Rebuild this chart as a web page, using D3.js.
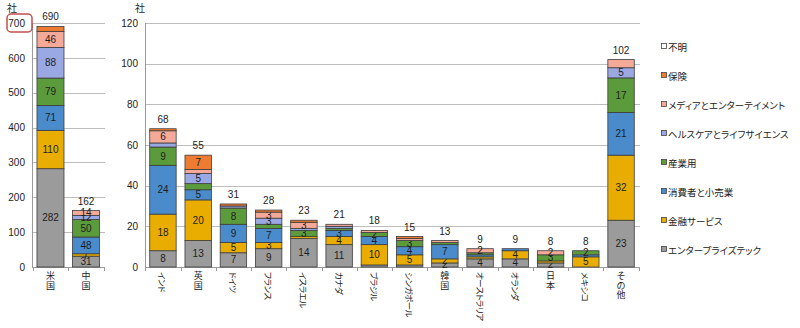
<!DOCTYPE html>
<html><head><meta charset="utf-8">
<script src="https://cdn.jsdelivr.net/npm/d3@7"></script>
<style>
html,body{margin:0;padding:0;background:#fff;}
svg{display:block;}
text{font-family:"Liberation Sans","Noto Sans CJK JP",sans-serif;}
.jp{font-family:"Noto Sans CJK JP",sans-serif;}
.palt{font-feature-settings:"palt" 1;}
</style></head>
<body>
<svg id="c" width="800" height="328"></svg>
<script>
// ---- data ----
const leftCats = ["米国","中国"];
const rightCats = ["インド","英国","ドイツ","フランス","イスラエル","カナダ","ブラジル","シンガポール","韓国","オーストラリア","オランダ","日本","メキシコ","その他"];
const seriesNames = ["エンタープライズテック","金融サービス","消費者と小売業","産業用","ヘルスケアとライフサイエンス","メディアとエンターテイメント","保険","不明"];
const seriesColors = ["#9b9b9b","#e8ad00","#4a8bcb","#5b9b3b","#9aa9e3","#f4a999","#ee7b32","#ffffff"];
// values: 米国, 中国, then rightCats order
const entTech    = [282,31, 8,13,7,9,14,11,1,1,2,4,4,2,0,23];
const finance    = [110, 7, 18,20,5,3,1,4,10,5,2,1,4,1,5,32];
const consumer   = [71,48, 24,5,9,7,0,3,4,4,7,1,1,0,1,21];
const industrial = [79,50, 9,3,8,2,3,1,2,3,1,1,0,3,2,17];
const health     = [88,12, 2,5,1,3,1,1,0,0,0,0,0,0,0,5];
const media      = [46,14, 6,2,0,3,3,1,1,1,1,2,0,2,0,4];
const insurance  = [14, 0, 1,7,1,1,1,0,0,1,0,0,0,0,0,0];
const unknown    = [0, 0, 0,0,0,0,0,0,0,0,0,0,0,0,0,0];
const totals     = [690,162, 68,55,31,28,23,21,18,15,13,9,9,8,8,102];
const leftTicks = [0,100,200,300,400,500,600,700];
const rightTicks = [0,20,40,60,80,100,120];
// segment labels that are not shown in the reference
const hiddenLabels = [["米国",6],["インド",4],["英国",3],["英国",5],["フランス",3],["その他",5]];

const allCats = leftCats.concat(rightCats);
const seriesVals = [entTech,finance,consumer,industrial,health,media,insurance,unknown];
const rows = allCats.map((c,i)=>{const r={cat:c,total:totals[i]}; seriesNames.forEach((s,k)=>r[s]=seriesVals[k][i]); return r;});
const stack = d3.stack().keys(seriesNames)(rows);

const svg = d3.select("#c");
const y0 = 267, yTop = 23;

function panel(cats, xr, yMax, ticks, gridEnd, axisX, unitX, pi, po){
  const x = d3.scaleBand().domain(cats).range(xr).paddingInner(pi).paddingOuter(po);
  const y = d3.scaleLinear().domain([0,yMax]).range([y0,yTop]);
  const g = svg.append("g");
  // grid
  g.selectAll(".grid").data(ticks.filter(t=>t>0)).join("line")
    .attr("x1",axisX).attr("x2",gridEnd).attr("y1",d=>Math.round(y(d))+0.5).attr("y2",d=>Math.round(y(d))+0.5)
    .attr("stroke","#bdbdbd").attr("stroke-width",1);
  // y axis
  const ya = g.append("g").attr("transform",`translate(${axisX},0)`)
    .call(d3.axisLeft(y).tickValues(ticks).tickSize(0).tickPadding(7));
  ya.select(".domain").remove();
  ya.selectAll("text").attr("font-size",10).attr("fill","#222").attr("font-family","Liberation Sans, sans-serif");
  g.append("line").attr("x1",axisX+0.5).attr("x2",axisX+0.5).attr("y1",yTop).attr("y2",y0).attr("stroke","#9a9a9a");
  g.append("line").attr("x1",axisX).attr("x2",gridEnd).attr("y1",y0+0.5).attr("y2",y0+0.5).attr("stroke","#9a9a9a");
  // category boundary ticks
  const step = x.step(), bw = x.bandwidth();
  const bounds = cats.map(c=>x(c)-(step-bw)/2).concat([x(cats[cats.length-1])+bw+(step-bw)/2]);
  g.selectAll(".xt").data(bounds).join("line")
    .attr("x1",d=>Math.round(d)+0.5).attr("x2",d=>Math.round(d)+0.5).attr("y1",y0).attr("y2",y0+4).attr("stroke","#9a9a9a");
  // unit
  g.append("text").attr("class","jp").attr("x",unitX).attr("y",12).attr("text-anchor","middle").attr("font-size",10).attr("fill","#222").text("社");
  // bars
  stack.forEach((layer,k)=>{
    layer.forEach(seg=>{
      const cat = seg.data.cat;
      if(!cats.includes(cat)) return;
      const v = seg[1]-seg[0];
      if(v<=0) return;
      const yy = y(seg[1]), h = y(seg[0])-y(seg[1]);
      g.append("rect").attr("x",x(cat)).attr("y",yy).attr("width",bw).attr("height",h)
        .attr("fill",seriesColors[k]).attr("stroke","#3c3c3c").attr("stroke-width",0.8);
      const hidden = hiddenLabels.some(p=>p[0]===cat && p[1]===k);
      if(v>=2 && !hidden){
        g.append("text").attr("x",x(cat)+bw/2).attr("y",yy+h/2+3.5).attr("text-anchor","middle")
          .attr("font-size",10).attr("fill","#1e1e1e").text(v);
      }
    });
  });
  // totals
  cats.forEach(c=>{
    const r = rows.find(d=>d.cat===c);
    g.append("text").attr("x",x(c)+bw/2).attr("y",y(r.total)-6).attr("text-anchor","middle")
      .attr("font-size",10).attr("fill","#222").text(r.total);
  });
  // category labels
  cats.forEach(c=>{
    const cx = x(c)+bw/2;
    const kata = /[\u30A0-\u30FF]/.test(c);
    if(kata){
      g.append("text").attr("class","jp palt").attr("transform",`translate(${cx-3.5},272) rotate(90)`)
        .attr("font-size",8.5).attr("letter-spacing",-0.5).attr("fill","#222").text(c);
    } else {
      [...c].forEach((ch,i)=>{
        g.append("text").attr("class","jp").attr("x",cx).attr("y",279+i*9.5).attr("text-anchor","middle")
          .attr("font-size",9).attr("fill","#222").text(ch);
      });
    }
  });
  return {x,y};
}

panel(leftCats,[32,104.5],700,leftTicks,105,32,12,0.24,0.14);
panel(rightCats,[145.5,638.5],120,rightTicks,640,145,140,0.25,0.12);

// highlight box around 700
svg.append("rect").attr("x",7).attr("y",14).attr("width",25).attr("height",18).attr("rx",4)
  .attr("fill","none").attr("stroke","#c0504d").attr("stroke-width",1.5);

// legend (top to bottom: reverse order)
const legendOrder = seriesNames.map((s,i)=>i).reverse();
const lg = svg.append("g");
legendOrder.forEach((k,i)=>{
  const yy = 47 + i*29;
  lg.append("rect").attr("x",661.5).attr("y",yy-3.5).attr("width",5).attr("height",5)
    .attr("fill",seriesColors[k]).attr("stroke","#444").attr("stroke-width",0.8);
  lg.append("text").attr("class","jp palt").attr("x",668).attr("y",yy+3.5).attr("font-size",9.5).attr("fill","#222").text(seriesNames[k]);
});
</script>
</body></html>
